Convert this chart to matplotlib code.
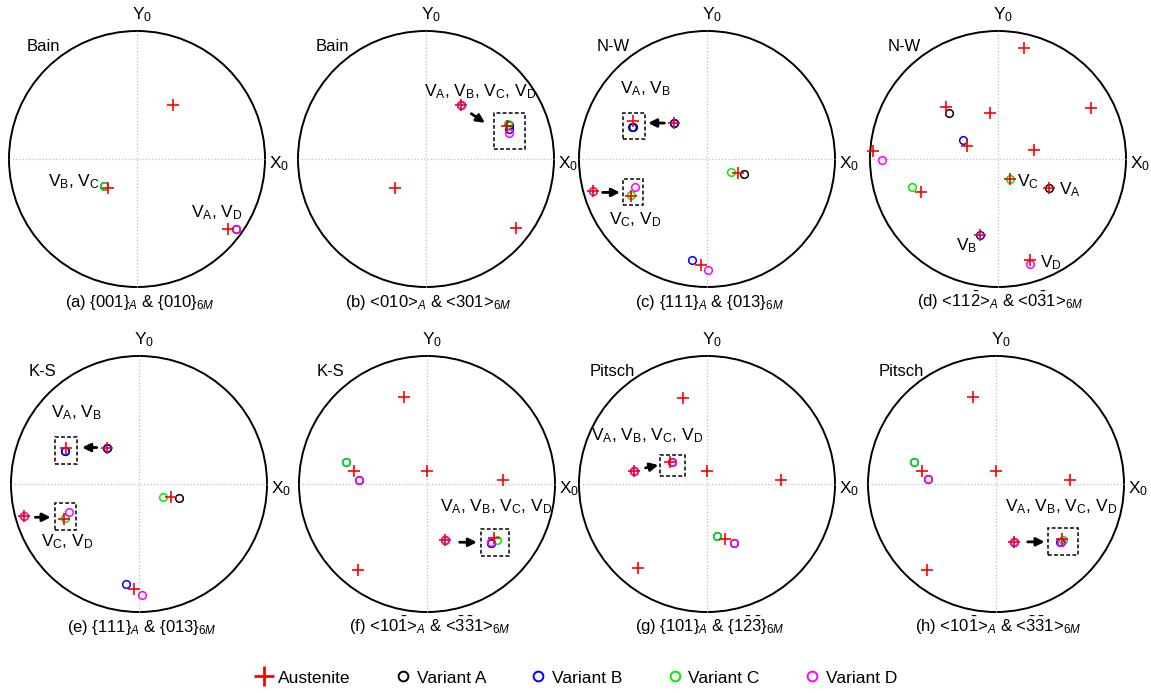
import matplotlib
matplotlib.use('Agg')
import matplotlib.pyplot as plt
from matplotlib.patches import Circle, Rectangle
from matplotlib.lines import Line2D

plt.rcParams['font.family'] = ['Liberation Sans', 'DejaVu Sans']
plt.rcParams['mathtext.fontset'] = 'custom'
plt.rcParams['mathtext.rm'] = 'Liberation Sans'
plt.rcParams['mathtext.it'] = 'Liberation Sans:italic'
plt.rcParams['mathtext.bf'] = 'Liberation Sans:bold'

panels = ['a', 'b', 'c', 'd', 'e', 'f', 'g', 'h']
orientation = ['Bain', 'Bain', 'N-W', 'N-W', 'K-S', 'K-S', 'Pitsch', 'Pitsch']
captions = [
    r'(a) {001}$_{A}$ & {010}$_{\mathit{6M}}$',
    r'(b) <010>$_{A}$ & <301>$_{\mathit{6M}}$',
    r'(c) {111}$_{A}$ & {013}$_{\mathit{6M}}$',
    r'(d) <11$\bar{2}$>$_{A}$ & <0$\bar{3}$1>$_{\mathit{6M}}$',
    r'(e) {111}$_{A}$ & {013}$_{\mathit{6M}}$',
    r'(f) <10$\bar{1}$>$_{A}$ & <$\bar{3}\bar{3}$1>$_{\mathit{6M}}$',
    r'(g) {101}$_{A}$ & {1$\bar{2}\bar{3}$}$_{\mathit{6M}}$',
    r'(h) <10$\bar{1}$>$_{A}$ & <$\bar{3}\bar{3}$1>$_{\mathit{6M}}$',
]

# pole positions (projected, unit circle)
austenite = {
    'a': [(0.28, 0.42), (-0.23, -0.23), (0.71, -0.55)],
    'b': [(0.277, 0.419), (-0.24, -0.23), (0.70, -0.54)],
    'c': [(-0.256, 0.281), (-0.894, -0.253), (0.24, -0.11), (-0.05, -0.83)],
    'd': [(0.20, 0.87), (0.73, 0.40), (-0.41, 0.41), (-0.06, 0.36), (-0.24, 0.10), (-0.98, 0.06),
          (0.28, 0.07), (-0.60, -0.26), (0.09, -0.16), (0.40, -0.23), (-0.14, -0.59), (0.25, -0.79)],
    'e': [(-0.25, 0.285), (-0.90, -0.25), (0.25, -0.105), (-0.04, -0.82)],
    'f': [(-0.18, 0.68), (-0.57, 0.10), (0.0, 0.10), (0.59, 0.03), (-0.54, -0.67), (0.14, -0.44)],
    'g': [(-0.19, 0.67), (-0.57, 0.10), (0.0, 0.10), (0.58, 0.03), (-0.54, -0.66), (0.14, -0.43)],
    'h': [(-0.18, 0.68), (-0.58, 0.10), (0.0, 0.10), (0.58, 0.03), (-0.54, -0.67), (0.14, -0.45)],
}
variant_a = {
    'a': [(0.77, -0.55)], 'b': [(0.277, 0.419)],
    'c': [(-0.256, 0.281), (0.29, -0.12)], 'd': [(-0.38, 0.36), (0.40, -0.23)],
    'e': [(-0.25, 0.285), (0.31, -0.11)], 'f': [(-0.53, 0.03), (0.14, -0.44)],
    'g': [(-0.57, 0.10), (0.21, -0.46)], 'h': [(-0.53, 0.04), (0.14, -0.45)],
}
variant_b = {
    'a': [(-0.26, -0.21)], 'b': [(0.277, 0.419)],
    'c': [(-0.256, 0.281), (-0.12, -0.79)], 'd': [(-0.27, 0.15), (-0.14, -0.59)],
    'e': [(-0.25, 0.285), (-0.10, -0.78)], 'f': [(-0.63, 0.17), (0.14, -0.44)],
    'g': [(-0.57, 0.10), (0.08, -0.41)], 'h': [(-0.64, 0.17), (0.14, -0.45)],
}
variant_c = {
    'a': [(-0.26, -0.21)], 'b': [(0.277, 0.419)],
    'c': [(-0.894, -0.253), (0.19, -0.10)], 'd': [(-0.67, -0.22), (0.09, -0.16)],
    'e': [(-0.90, -0.25), (0.19, -0.10)], 'f': [(-0.63, 0.17), (0.14, -0.44)],
    'g': [(-0.57, 0.10), (0.08, -0.41)], 'h': [(-0.64, 0.17), (0.14, -0.45)],
}
variant_d = {
    'a': [(0.77, -0.55)], 'b': [(0.277, 0.419)],
    'c': [(-0.894, -0.253), (0.01, -0.87)], 'd': [(-0.91, -0.01), (0.25, -0.82)],
    'e': [(-0.90, -0.25), (0.02, -0.87)], 'f': [(-0.53, 0.03), (0.14, -0.44)],
    'g': [(-0.57, 0.10), (0.21, -0.46)], 'h': [(-0.53, 0.04), (0.14, -0.45)],
}

# magnified poles shown inside the dashed boxes
zoom_aus = {'b': [(0.63, 0.26)], 'c': [(-0.576, 0.297), (-0.597, -0.292)],
            'e': [(-0.57, 0.28), (-0.586, -0.27)], 'f': [(0.526, -0.424)],
            'g': [(-0.286, 0.173)], 'h': [(0.517, -0.426)]}
zoom_a = {'b': [(0.65, 0.265)], 'c': [(-0.58, 0.25)], 'e': [(-0.575, 0.255)],
          'f': [(0.50, -0.46)], 'g': [(-0.27, 0.173)], 'h': [(0.504, -0.457)]}
zoom_b = {'b': [(0.65, 0.235)], 'c': [(-0.584, 0.25)], 'e': [(-0.58, 0.254)],
          'f': [(0.50, -0.46)], 'g': [(-0.27, 0.17)], 'h': [(0.50, -0.455)]}
zoom_c = {'b': [(0.64, 0.27)], 'c': [(-0.59, -0.28)], 'e': [(-0.58, -0.265)],
          'f': [(0.545, -0.44)], 'g': [(-0.275, 0.175)], 'h': [(0.52, -0.44)]}
zoom_d = {'b': [(0.65, 0.205)], 'c': [(-0.566, -0.22)], 'e': [(-0.55, -0.22)],
          'f': [(0.50, -0.455)], 'g': [(-0.27, 0.17)], 'h': [(0.504, -0.455)]}

series = [(variant_a, zoom_a, 'black', 'Variant A'),
          (variant_b, zoom_b, '#0000ff', 'Variant B'),
          (variant_c, zoom_c, '#00ee00', 'Variant C'),
          (variant_d, zoom_d, '#ff00ff', 'Variant D')]

# annotation layout
VA, VB, VC, VD = r'V$_\mathrm{A}$', r'V$_\mathrm{B}$', r'V$_\mathrm{C}$', r'V$_\mathrm{D}$'
boxes = {'b': [(0.535, 0.775, 0.078, 0.362)],
         'c': [(-0.653, -0.488, 0.153, 0.359), (-0.653, -0.498, -0.357, -0.157)],
         'e': [(-0.654, -0.484, 0.154, 0.366), (-0.654, -0.492, -0.361, -0.152)],
         'f': [(0.418, 0.637, -0.56, -0.35)],
         'g': [(-0.366, -0.168, 0.064, 0.229)],
         'h': [(0.407, 0.64, -0.556, -0.342)]}
arrows = {'b': [((0.354, 0.354), (0.46, 0.283))],
          'c': [((-0.333, 0.281), (-0.46, 0.281)), ((-0.816, -0.261), (-0.68, -0.261))],
          'e': [((-0.33, 0.285), (-0.445, 0.285)), ((-0.81, -0.26), (-0.69, -0.26))],
          'f': [((0.255, -0.455), (0.39, -0.455))],
          'g': [((-0.48, 0.126), (-0.38, 0.148))],
          'h': [((0.248, -0.452), (0.38, -0.452))]}
labels = {'a': [(VB + ', ' + VC, -0.29, -0.18, 'right'), (VA + ', ' + VD, 0.83, -0.42, 'right')],
          'b': [(VA + ', ' + VB + ', ' + VC + ', ' + VD, 0.42, 0.53, 'center')],
          'c': [(VA + ', ' + VB, -0.48, 0.55, 'center'), (VC + ', ' + VD, -0.56, -0.47, 'center')],
          'd': [(VC, 0.145, -0.18, 'left'), (VA, 0.48, -0.24, 'left'),
                (VB, -0.165, -0.68, 'right'), (VD, 0.325, -0.81, 'left')],
          'e': [(VA + ', ' + VB, -0.49, 0.555, 'center'), (VC + ', ' + VD, -0.56, -0.45, 'center')],
          'f': [(VA + ', ' + VB + ', ' + VC + ', ' + VD, 0.54, -0.18, 'center')],
          'g': [(VA + ', ' + VB + ', ' + VC + ', ' + VD, -0.47, 0.38, 'center')],
          'h': [(VA + ', ' + VB + ', ' + VC + ', ' + VD, 0.51, -0.18, 'center')]}

W, H = 1151, 693
centers = {'a': (137, 159), 'b': (426, 159), 'c': (707, 159), 'd': (998, 159),
           'e': (139, 484), 'f': (427, 484), 'g': (707, 484), 'h': (996, 484)}
R = 128
L = 1.12

fig = plt.figure(figsize=(W / 100, H / 100), dpi=100)

for i, p in enumerate(panels):
    cx, cy = centers[p]
    ax = fig.add_axes([(cx - L * R) / W, (H - cy - L * R) / H, 2 * L * R / W, 2 * L * R / H])
    ax.set_xlim(-L, L)
    ax.set_ylim(-L, L)
    ax.axis('off')

    ax.plot([-1, 1], [0, 0], ls=':', color='0.75', lw=0.9)
    ax.plot([0, 0], [-1, 1], ls=':', color='0.75', lw=0.9)
    ax.add_patch(Circle((0, 0), 1, fill=False, ec='black', lw=1.4))

    for var, zvar, col, _ in series:
        pts = var[p] + zvar.get(p, [])
        ax.plot([q[0] for q in pts], [q[1] for q in pts], 'o', mfc='none', mec=col,
                ms=5.5, mew=1.1, clip_on=False, zorder=3)
    pts = austenite[p] + zoom_aus.get(p, [])
    ax.plot([q[0] for q in pts], [q[1] for q in pts], '+', color='#ff0000',
            ms=8, mew=1.2, clip_on=False, zorder=4)

    for x0, x1, y0, y1 in boxes.get(p, []):
        ax.add_patch(Rectangle((x0, y0), x1 - x0, y1 - y0, fill=False, ec='black',
                               ls=(0, (2.5, 1.5)), lw=1.1, zorder=5))
    for start, end in arrows.get(p, []):
        ax.annotate('', xy=end, xytext=start,
                    arrowprops=dict(arrowstyle='-|>', color='black', lw=2,
                                    mutation_scale=12, shrinkA=0, shrinkB=0))
    for txt, x, y, ha in labels[p]:
        ax.text(x, y, txt, ha=ha, va='center', fontsize=12.5)

    ax.text(-0.04, 1.09, r'Y$_0$', ha='left', va='baseline', fontsize=12.5)
    ax.text(1.03, -0.07, r'X$_0$', ha='left', va='baseline', fontsize=12.5)
    ax.text(-0.86 if orientation[i] != 'Pitsch' else -0.915, 0.845, orientation[i],
            ha='left', va='baseline', fontsize=12)
    ax.text(0.02, -1.16, captions[i], ha='center', va='baseline', fontsize=12)

handles = [Line2D([], [], marker='+', ls='none', color='#ff0000', ms=14, mew=2)]
names = ['Austenite']
for _, _, col, name in series:
    handles.append(Line2D([], [], marker='o', ls='none', mfc='none', mec=col, ms=7, mew=1.4))
    names.append(name)
fig.legend(handles, names, loc='center', bbox_to_anchor=(0.5, 1 - 678 / H), ncol=5,
           frameon=False, fontsize=12.5, columnspacing=2.4, handletextpad=0.2, handlelength=1.2)

fig.savefig('out.png', dpi=100)
